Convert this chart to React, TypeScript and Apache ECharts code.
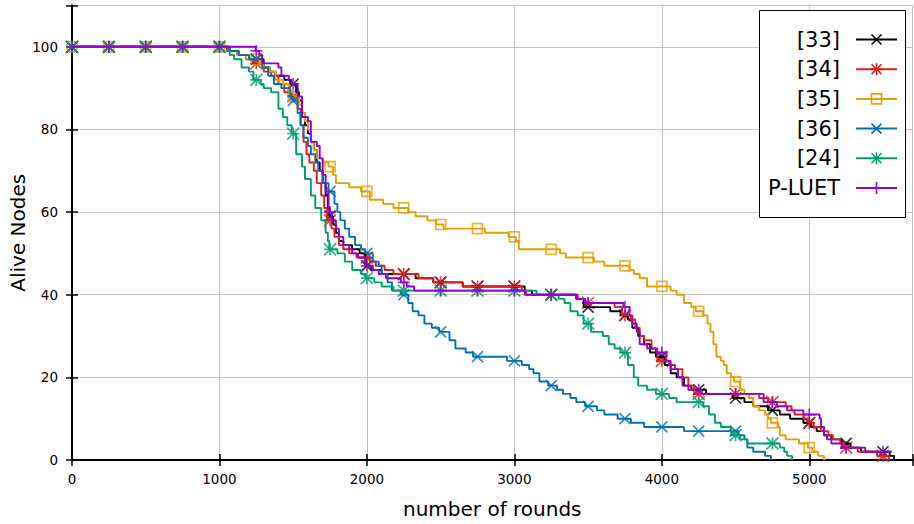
import React, { useEffect, useRef } from 'react';
import * as echarts from 'echarts';

type Pt = [number, number];

// Step breakpoints [round, alive nodes]
const s33: Pt[] = [[0,100],[1070,99],[1130,98],[1200,97],[1300,95],[1340,94],[1380,93],[1440,92],[1480,91],[1520,89],[1540,87],[1560,84],[1580,81],[1600,79],[1620,77],[1640,75],[1660,72],[1680,70],[1700,67],[1720,64],[1735,61],[1745,59],[1770,57],[1790,55],[1810,53],[1840,52],[1900,51],[1950,50],[1990,47],[2030,46],[2100,45],[2330,44],[2450,43],[2650,42],[3070,41],[3120,40],[3420,39],[3470,37],[3650,36],[3720,35],[3770,34],[3800,32],[3840,30],[3880,28],[3920,26],[3960,25],[4020,23],[4060,21],[4100,20],[4150,18],[4200,17],[4300,16],[4480,15],[4560,14],[4620,13],[4720,12],[4800,11],[4870,10],[4960,9],[5010,8],[5050,7],[5100,6],[5150,5],[5220,4],[5280,3],[5350,2],[5545,1],[5575,0]];
const s34: Pt[] = [[0,100],[1050,99],[1120,98],[1180,97],[1230,96],[1300,94],[1350,93],[1400,91],[1440,89],[1490,88],[1530,85],[1550,81],[1570,77],[1590,74],[1610,72],[1640,70],[1660,67],[1690,64],[1710,61],[1730,58],[1760,56],[1780,54],[1810,52],[1840,51],[1880,50],[1930,49],[2020,48],[2060,47],[2120,46],[2180,45],[2350,44],[2450,43],[2650,42],[3050,41],[3080,40],[3430,39],[3480,38],[3680,37],[3730,35],[3790,34],[3820,32],[3850,30],[3880,29],[3930,27],[3970,24],[4050,23],[4090,22],[4140,20],[4180,18],[4220,16],[4660,15],[4720,14],[4840,13],[4880,12],[4900,11],[4960,10],[4990,9],[5030,8],[5080,7],[5130,6],[5160,5],[5210,4],[5240,3],[5330,2],[5460,1],[5540,0]];
const s35: Pt[] = [[0,100],[1060,99],[1120,98],[1180,97],[1270,96],[1300,95],[1340,94],[1380,92],[1430,91],[1470,89],[1500,88],[1540,86],[1560,84],[1580,82],[1600,80],[1620,77],[1640,75],[1660,73],[1700,72],[1740,71],[1770,69],[1790,67],[1880,66],[1960,65],[2020,63],[2110,62],[2180,61],[2280,60],[2330,59],[2410,58],[2470,57],[2520,56],[2800,55],[2960,54],[3010,53],[3030,51],[3310,50],[3350,49],[3540,48],[3610,47],[3780,46],[3810,45],[3850,44],[3900,42],[4060,41],[4100,40],[4150,38],[4200,37],[4230,36],[4280,35],[4310,33],[4330,31],[4350,28],[4370,25],[4400,24],[4420,23],[4440,21],[4470,20],[4490,19],[4530,17],[4560,16],[4590,15],[4620,13],[4660,12],[4700,11],[4720,10],[4740,9],[4790,8],[4800,6],[4840,5],[4930,4],[4990,3],[5020,2],[5060,1],[5100,0]];
const s36: Pt[] = [[0,100],[1060,99],[1130,98],[1200,97],[1290,95],[1330,93],[1370,91],[1420,90],[1480,88],[1500,87],[1530,84],[1550,81],[1570,78],[1600,76],[1620,74],[1650,72],[1670,70],[1700,67],[1740,65],[1780,62],[1800,60],[1820,58],[1850,56],[1880,54],[1920,52],[1960,51],[1990,50],[2040,48],[2080,47],[2100,45],[2140,43],[2170,41],[2230,40],[2280,38],[2310,36],[2350,35],[2390,33],[2440,32],[2490,31],[2560,29],[2600,27],[2670,26],[2720,25],[2950,24],[3050,23],[3100,22],[3130,21],[3170,19],[3230,18],[3290,17],[3330,16],[3380,15],[3420,14],[3480,13],[3560,12],[3610,11],[3700,10],[3790,9],[3880,8],[4150,7],[4520,6],[4560,5],[4580,3],[4620,2],[4700,1],[4740,0]];
const s24: Pt[] = [[0,100],[1070,98],[1100,97],[1150,95],[1200,94],[1230,92],[1280,91],[1300,90],[1350,89],[1400,85],[1430,83],[1460,81],[1490,79],[1520,74],[1560,71],[1580,68],[1620,64],[1650,61],[1690,58],[1720,55],[1735,53],[1745,51],[1800,50],[1850,48],[1900,46],[1960,45],[1990,44],[2050,43],[2100,42],[2180,41],[3150,40],[3300,39],[3340,38],[3380,36],[3430,35],[3470,33],[3520,31],[3600,30],[3640,28],[3680,27],[3720,26],[3770,23],[3810,20],[3840,18],[3900,17],[3960,16],[4050,15],[4100,14],[4280,13],[4320,11],[4360,9],[4400,8],[4470,6],[4530,5],[4580,4],[4800,3],[4830,2],[4850,1],[4883,0]];
const sPLUET: Pt[] = [[0,100],[1245,99],[1270,98],[1290,96],[1400,95],[1420,93],[1470,92],[1490,91],[1530,88],[1560,83],[1600,82],[1620,77],[1660,76],[1680,73],[1700,69],[1720,65],[1740,60],[1760,58],[1790,56],[1810,54],[1840,52],[1880,51],[1900,50],[1940,49],[1990,47],[2040,46],[2080,45],[2130,44],[2230,43],[2270,42],[2320,41],[3070,40],[3420,39],[3480,38],[3740,37],[3780,35],[3800,33],[3830,31],[3850,28],[3900,27],[3960,26],[4030,24],[4060,22],[4110,20],[4140,18],[4180,17],[4270,16],[4690,14],[4780,13],[4850,12],[4960,11],[5070,10],[5080,8],[5100,6],[5120,5],[5150,4],[5220,3],[5380,2],[5560,2]];

const seriesNames = ['[33]', '[34]', '[35]', '[36]', '[24]', 'P-LUET'];
const seriesData: Pt[][] = [s33, s34, s35, s36, s24, sPLUET];

const markerEvery = 250;
const xMin = 0;
const xMax = 5700;
const xInterval = 1000;
const yMin = 0;
const yMax = 110;
const yInterval = 20;

const COLORS = ['#000000', '#e41a1c', '#e69f00', '#0072b2', '#009e73', '#9400d3'];
const CROSS = 'path://M0,0L10,10M10,0L0,10';
const STAR = 'path://M0,0L10,10M10,0L0,10M5,0L5,10M0,5L10,5';
const SQUARE = 'path://M0,0L10,0L10,10L0,10Z';
const PLUS = 'path://M5,0L5,10M0,5L10,5';
const SYMBOLS = [CROSS, STAR, SQUARE, CROSS, STAR, PLUS];
const SYMBOL_KIND = ['cross', 'star', 'square', 'cross', 'star', 'plus'];
const SYMBOL_SIZE = [11, 12, 10, 11, 12, 12];

const FONT = "'DejaVu Sans', sans-serif";

function valueAt(pts: Pt[], r: number): number {
  let v = pts[0][1];
  for (const [x, y] of pts) {
    if (x <= r) v = y;
    else break;
  }
  return v;
}

function markers(pts: Pt[]): Pt[] {
  const last = pts[pts.length - 1][0];
  const out: Pt[] = [];
  for (let r = 0; r < last; r += markerEvery) out.push([r, valueAt(pts, r)]);
  return out;
}

function legendGraphics(): any[] {
  const els: any[] = [];
  const box = { x: 759, y: 10, w: 146, h: 207 };
  els.push({
    type: 'rect',
    shape: { x: box.x + 0.5, y: box.y + 0.5, width: box.w, height: box.h },
    style: { fill: '#ffffff', stroke: '#000000', lineWidth: 1 },
    z: 100,
  });
  seriesNames.forEach((name, i) => {
    const cy = 39.5 + i * 29.7;
    const c = COLORS[i];
    els.push({
      type: 'text',
      x: 840,
      y: cy,
      style: { text: name, fill: '#000', font: `21px ${FONT}`, textAlign: 'right', textVerticalAlign: 'middle' },
      z: 101,
    });
    els.push({
      type: 'line',
      shape: { x1: 856, y1: cy, x2: 897, y2: cy },
      style: { stroke: c, lineWidth: 2 },
      z: 101,
    });
    const mx = 876.5;
    const h = 5;
    const kind = SYMBOL_KIND[i];
    const st = { stroke: c, lineWidth: 1.6 };
    if (kind === 'cross' || kind === 'star') {
      els.push({ type: 'line', shape: { x1: mx - h, y1: cy - h, x2: mx + h, y2: cy + h }, style: st, z: 102 });
      els.push({ type: 'line', shape: { x1: mx - h, y1: cy + h, x2: mx + h, y2: cy - h }, style: st, z: 102 });
    }
    if (kind === 'plus' || kind === 'star') {
      els.push({ type: 'line', shape: { x1: mx, y1: cy - h - 1, x2: mx, y2: cy + h + 1 }, style: st, z: 102 });
      els.push({ type: 'line', shape: { x1: mx - h - 1, y1: cy, x2: mx + h + 1, y2: cy }, style: st, z: 102 });
    }
    if (kind === 'square') {
      els.push({ type: 'rect', shape: { x: mx - 5, y: cy - 5, width: 10, height: 10 }, style: { ...st, fill: 'none' }, z: 102 });
    }
  });
  return els;
}

export default function App() {
  const ref = useRef<HTMLDivElement>(null);
  useEffect(() => {
    if (!ref.current) return;
    const chart = echarts.init(ref.current, undefined, { renderer: 'svg' });
    const series: any[] = [];
    seriesData.forEach((pts, i) => {
      series.push({
        type: 'line',
        name: seriesNames[i],
        data: pts,
        step: 'end',
        showSymbol: false,
        lineStyle: { color: COLORS[i], width: 1.9 },
        itemStyle: { color: COLORS[i] },
        emphasis: { disabled: true },
        xAxisIndex: 0,
        yAxisIndex: 0,
      });
      series.push({
        type: 'scatter',
        name: seriesNames[i] + ' points',
        data: markers(pts),
        symbol: SYMBOLS[i],
        symbolSize: SYMBOL_SIZE[i],
        symbolKeepAspect: true,
        clip: false,
        itemStyle: { color: 'rgba(0,0,0,0)', borderColor: COLORS[i], borderWidth: 1.7 },
        emphasis: { disabled: true },
        xAxisIndex: 0,
        yAxisIndex: 0,
      });
    });
    const tickLabel = { color: '#000', fontFamily: FONT, fontSize: 13.5 };
    chart.setOption({
      animation: false,
      backgroundColor: '#ffffff',
      grid: { left: 72, right: 1.5, top: 5.5, bottom: 64, show: false, containLabel: false, outerBoundsMode: 'none' },
      xAxis: [
        {
          type: 'value', min: xMin, max: xMax, interval: xInterval,
          name: 'number of rounds', nameLocation: 'middle', nameGap: 39, nameMoveOverlap: false,
          nameTextStyle: { color: '#000', fontFamily: FONT, fontSize: 20 },
          axisLine: { show: true, lineStyle: { color: '#000', width: 2 } },
          axisTick: { show: true, inside: true, length: 6, lineStyle: { color: '#000', width: 1.5 } },
          axisLabel: { ...tickLabel, margin: 12, formatter: (v: number) => (v % xInterval === 0 ? String(v) : '') },
          splitLine: { show: true, lineStyle: { color: '#c4c4c4', width: 1 } },
        },
        {
          type: 'value', position: 'top', min: xMin, max: xMax, interval: xInterval,
          axisLine: { show: true, lineStyle: { color: '#000', width: 2 } },
          axisTick: { show: true, inside: true, length: 6, lineStyle: { color: '#000', width: 1.5 } },
          axisLabel: { show: false },
          splitLine: { show: false },
        },
      ],
      yAxis: [
        {
          type: 'value', min: yMin, max: yMax, interval: yInterval,
          name: 'Alive Nodes', nameLocation: 'middle', nameGap: 44, nameMoveOverlap: false,
          nameTextStyle: { color: '#000', fontFamily: FONT, fontSize: 20 },
          axisLine: { show: true, lineStyle: { color: '#000', width: 2 } },
          axisTick: { show: true, inside: true, length: 6, lineStyle: { color: '#000', width: 1.5 } },
          axisLabel: { ...tickLabel, margin: 14, formatter: (v: number) => (v % yInterval === 0 ? String(v) : '') },
          splitLine: { show: true, lineStyle: { color: '#c4c4c4', width: 1 } },
        },
        {
          type: 'value', position: 'right', min: yMin, max: yMax, interval: yInterval,
          axisLine: { show: true, lineStyle: { color: '#000', width: 2 } },
          axisTick: { show: true, inside: true, length: 6, lineStyle: { color: '#000', width: 1.5 } },
          axisLabel: { show: false },
          splitLine: { show: false },
        },
      ],
      series,
      graphic: legendGraphics(),
    });
    return () => chart.dispose();
  }, []);
  return <div ref={ref} style={{ position: 'fixed', left: 0, top: 0, width: 914, height: 524 }} />;
}
